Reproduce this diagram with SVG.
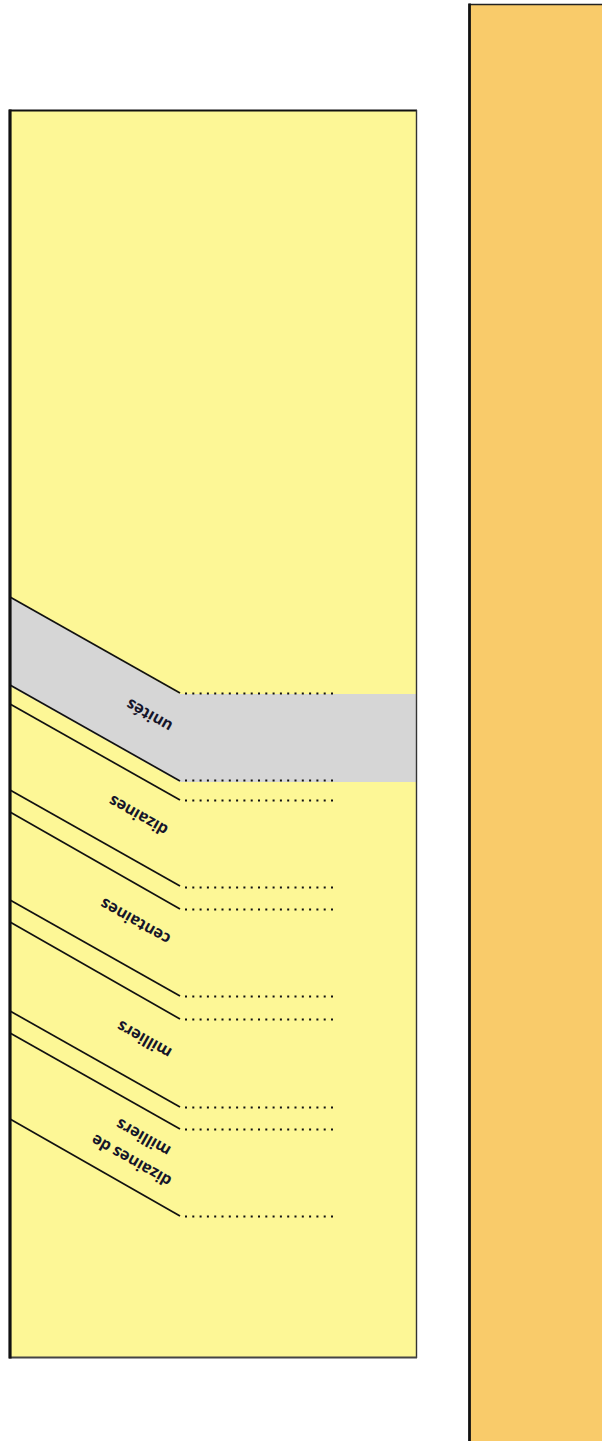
<svg xmlns="http://www.w3.org/2000/svg" width="602" height="1441" viewBox="0 0 602 1441">
<style>
.slant{stroke:#111;stroke-width:1.7;fill:none}
.dot{stroke:#111;stroke-width:2;stroke-dasharray:2 5.3;fill:none}
.lbl{font-family:"Open Sans","Liberation Sans",sans-serif;font-weight:700;font-size:16px;fill:#15152a;text-anchor:middle;dominant-baseline:central}
</style>
<rect width="602" height="1441" fill="#ffffff"/>
<g id="right-panel">
<rect x="469" y="4" width="140" height="1445" fill="#F9CB6A"/>
<line x1="469" y1="4.5" x2="602" y2="4.5" stroke="#222" stroke-width="1.6"/>
<line x1="469.5" y1="3.5" x2="469.5" y2="1441" stroke="#111" stroke-width="2.8"/>
</g>
<g id="left-panel">
<rect x="10" y="110" width="406" height="1247" fill="#FDF796"/>
<polygon id="band-unites" points="10,597 180,694 416,694 416,782 180,782 10,686" fill="#D6D6D6"/>
<line x1="9" y1="110.5" x2="417" y2="110.5" stroke="#111" stroke-width="2.2"/>
<line x1="416.5" y1="110" x2="416.5" y2="1358" stroke="#333" stroke-width="1.4"/>
<line x1="9" y1="1357.5" x2="417" y2="1357.5" stroke="#444" stroke-width="1.8"/>
<line x1="10" y1="109.5" x2="10" y2="1358.5" stroke="#111" stroke-width="3.2"/>
</g>
<g id="connectors">
<line class="slant" x1="10" y1="597" x2="180" y2="693"/>
<line class="slant" x1="10" y1="685" x2="180" y2="781"/>
<line class="slant" x1="10" y1="704" x2="180" y2="800"/>
<line class="slant" x1="10" y1="790" x2="180" y2="886"/>
<line class="slant" x1="10" y1="812" x2="180" y2="909"/>
<line class="slant" x1="10" y1="900" x2="180" y2="996"/>
<line class="slant" x1="10" y1="922" x2="180" y2="1019"/>
<line class="slant" x1="10" y1="1011" x2="180" y2="1107"/>
<line class="slant" x1="10" y1="1033" x2="180" y2="1129"/>
<line class="slant" x1="10" y1="1119" x2="180" y2="1216"/>
<line class="dot" x1="185" y1="693.5" x2="334" y2="693.5"/>
<line class="dot" x1="185" y1="780.5" x2="334" y2="780.5"/>
<line class="dot" x1="185" y1="800.5" x2="334" y2="800.5"/>
<line class="dot" x1="185" y1="887.5" x2="334" y2="887.5"/>
<line class="dot" x1="185" y1="909.5" x2="334" y2="909.5"/>
<line class="dot" x1="185" y1="996.5" x2="334" y2="996.5"/>
<line class="dot" x1="185" y1="1019.5" x2="334" y2="1019.5"/>
<line class="dot" x1="185" y1="1107.5" x2="334" y2="1107.5"/>
<line class="dot" x1="185" y1="1129.5" x2="334" y2="1129.5"/>
<line class="dot" x1="185" y1="1216.5" x2="334" y2="1216.5"/>
</g>
<g id="label-unites"><text class="lbl" transform="translate(149,716) rotate(209.45)">unités</text></g>
<g id="label-dizaines"><text class="lbl" transform="translate(138,816) rotate(209.45)">dizaines</text></g>
<g id="label-centaines"><text class="lbl" transform="translate(135,922) rotate(209.45)">centaines</text></g>
<g id="label-milliers"><text class="lbl" transform="translate(144,1040) rotate(209.45)">milliers</text></g>
<g id="label-dizaines-de-milliers">
<text class="lbl" transform="translate(143,1138) rotate(209.45)">milliers</text>
<text class="lbl" transform="translate(131,1161) rotate(209.45)">dizaines de</text>
</g>
</svg>
